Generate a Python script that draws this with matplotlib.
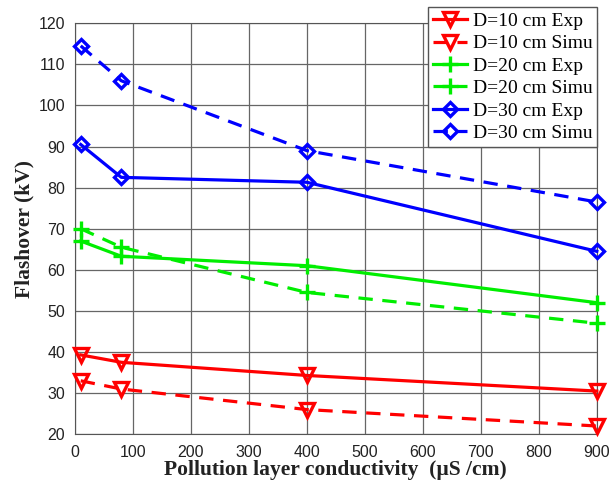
import matplotlib.pyplot as plt

# conductivity points (uS/cm)
conductivity = [10, 80, 400, 900]

# flashover voltages (kV)
d10_exp = [39.3, 37.5, 34.3, 30.5]
d10_simu = [33.0, 31.0, 26.0, 22.0]
d20_exp = [67.0, 63.3, 61.0, 52.0]
d20_simu = [70.0, 65.5, 54.5, 47.0]
d30_exp = [90.5, 82.5, 81.3, 64.5]
d30_simu = [114.5, 106.0, 89.0, 76.5]

fig = plt.figure(figsize=(6.09, 4.94), dpi=100)
ax = fig.add_axes([0.123, 0.121, 0.857, 0.832])

series = [
    (d10_exp, 'red', 'v', '-', 'D=10 cm Exp'),
    (d10_simu, 'red', 'v', '--', 'D=10 cm Simu'),
    (d20_exp, '#00ee00', '+', '-', 'D=20 cm Exp'),
    (d20_simu, '#00ee00', '+', '--', 'D=20 cm Simu'),
    (d30_exp, 'blue', 'D', '-', 'D=30 cm Exp'),
    (d30_simu, 'blue', 'D', '--', 'D=30 cm Simu'),
]

marker_sizes = {'v': 9.5, '+': 11, 'D': 7.5}

for vals, color, marker, ls, label in series:
    line, = ax.plot(conductivity, vals, color=color, linestyle=ls, linewidth=2.3,
                    marker=marker, markersize=marker_sizes[marker], markerfacecolor='none',
                    markeredgewidth=2.4, label=label, clip_on=False, zorder=3)
    if ls == '--':
        line.set_dashes((4.5, 3))

ax.set_xlim(0, 900)
ax.set_ylim(20, 120)
ax.set_xticks(range(0, 901, 100))
ax.set_yticks(range(20, 121, 10))
ax.grid(True, color='#666666', linewidth=0.9)
ax.set_axisbelow(True)
ax.tick_params(labelsize=11.5, direction='in', length=0, labelcolor='#222222')
ax.tick_params(axis='x', pad=8)
ax.tick_params(axis='y', pad=7)
for lbl in ax.get_xticklabels() + ax.get_yticklabels():
    lbl.set_family('Liberation Sans')
for sp in ax.spines.values():
    sp.set_color('#555555')

ax.set_xlabel('Pollution layer conductivity  (\u00b5S /cm)', family='Liberation Serif',
              fontsize=15.5, fontweight='bold', color='#222222', labelpad=0)
ax.set_ylabel('Flashover (kV)', family='Liberation Serif', fontsize=15.5,
              fontweight='bold', color='#222222', labelpad=3)

leg = ax.legend(loc='upper right', bbox_to_anchor=(0.981, 0.985),
                bbox_transform=fig.transFigure, prop={'family': 'Liberation Serif', 'size': 14},
                fancybox=False, framealpha=1, edgecolor='#555555', handlelength=1.75,
                borderpad=0.25, labelspacing=0.25, handletextpad=0.3, borderaxespad=0)
leg.set_zorder(5)

fig.savefig('out.png', dpi=100)
